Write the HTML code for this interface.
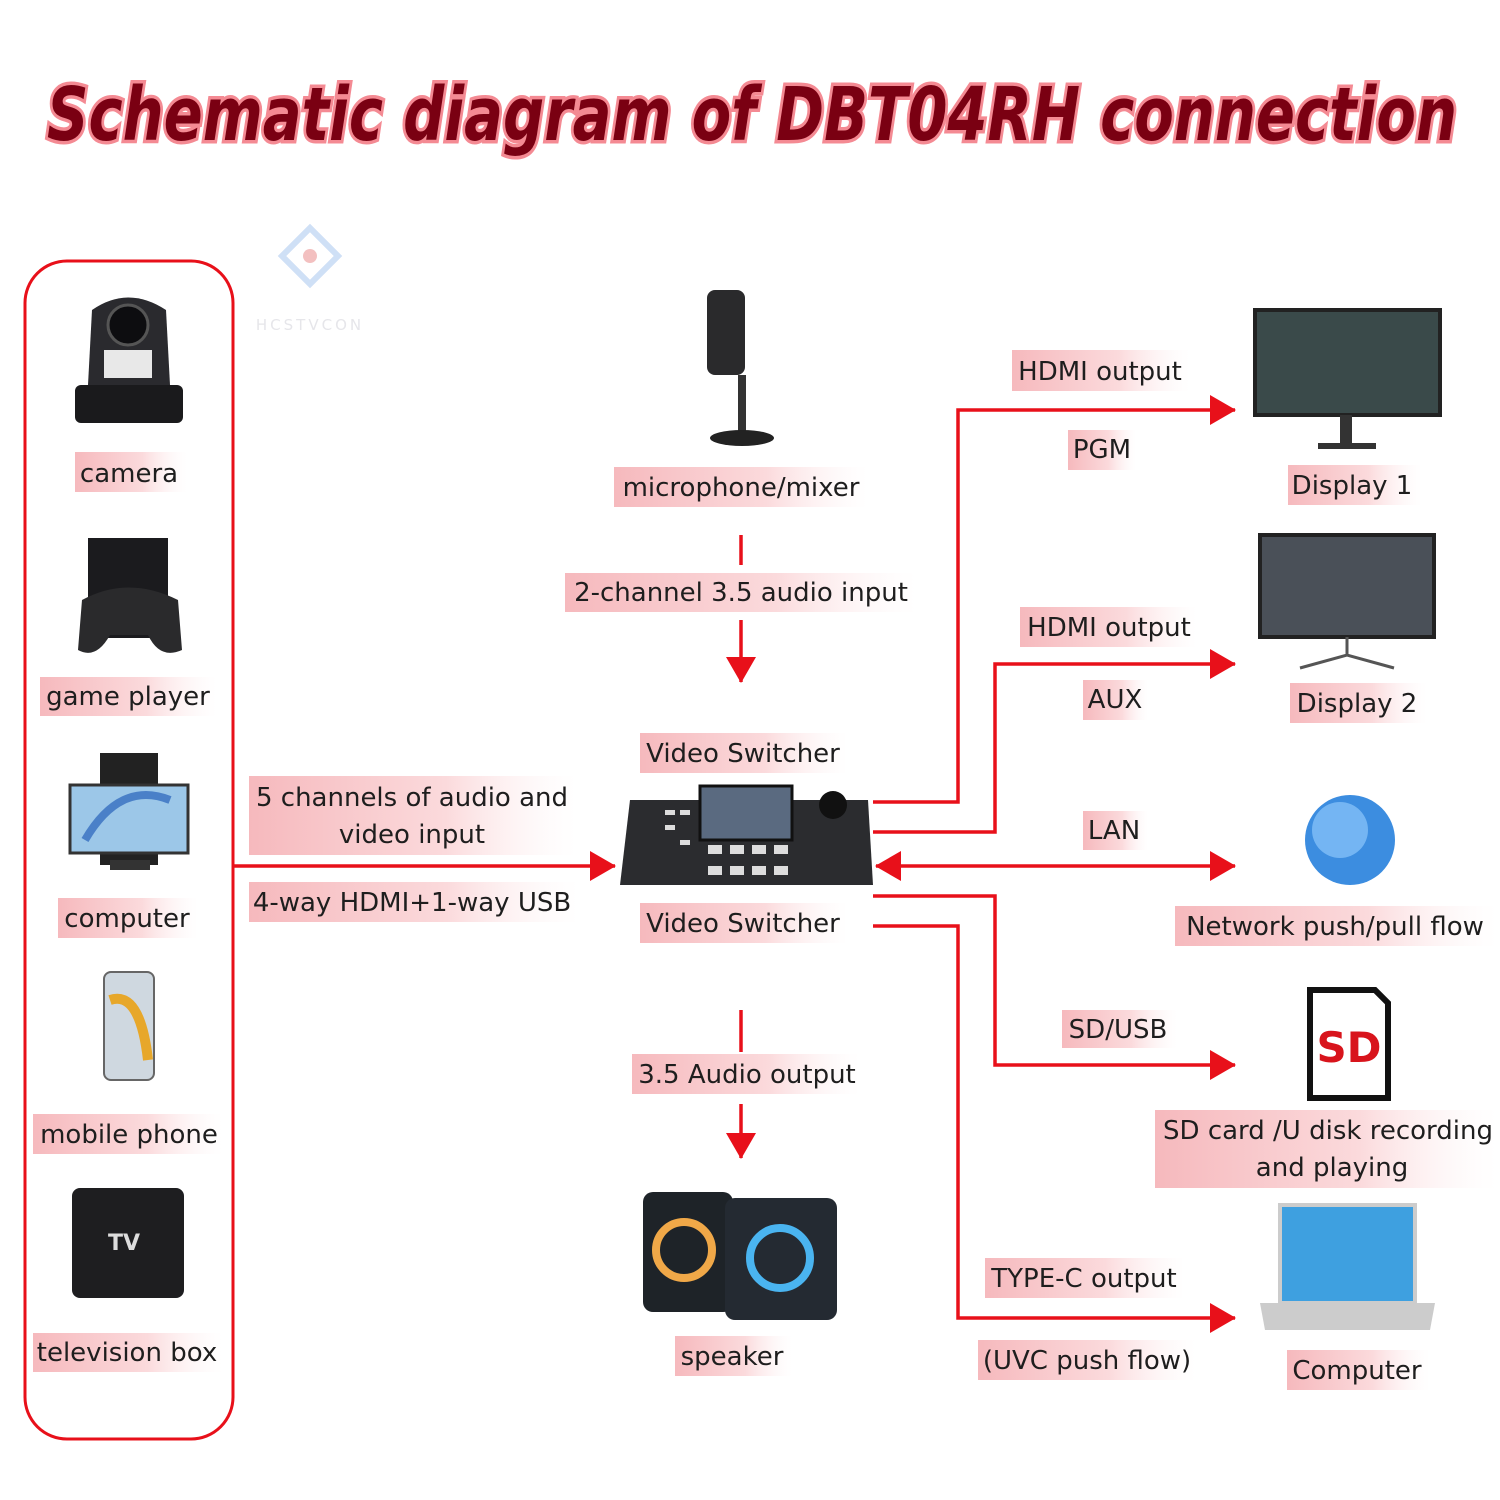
<!DOCTYPE html>
<html><head><meta charset="utf-8"><style>
html,body{margin:0;padding:0;background:#fff;}
svg{display:block;}
.l{font-family:"DejaVu Sans","Liberation Sans",sans-serif;font-size:26px;fill:#1e1e1e;text-anchor:middle;}
</style></head><body>
<svg width="1500" height="1500" viewBox="0 0 1500 1500" xmlns="http://www.w3.org/2000/svg">
<defs>
<linearGradient id="g" x1="0" x2="1" y1="0" y2="0"><stop offset="0" stop-color="#f6b9bd"/><stop offset="0.6" stop-color="#fbdadc"/><stop offset="1" stop-color="#fff" stop-opacity="0.3"/></linearGradient>
<marker id="ab" viewBox="0 0 26 30" markerWidth="26" markerHeight="30" refX="25" refY="15" orient="auto" markerUnits="userSpaceOnUse"><path d="M0,0 L26,15 L0,30z" fill="#e8101a"/></marker>
<marker id="as" viewBox="0 0 26 30" markerWidth="26" markerHeight="30" refX="1" refY="15" orient="auto" markerUnits="userSpaceOnUse"><path d="M26,0 L0,15 L26,30z" fill="#e8101a"/></marker>
</defs>
<text x="752" y="140" text-anchor="middle" textLength="1410" lengthAdjust="spacingAndGlyphs" font-family="DejaVu Sans,sans-serif" font-weight="bold" font-style="italic" font-size="74" fill="#7a0012" stroke="#f48a93" stroke-width="7" paint-order="stroke">Schematic diagram of DBT04RH connection</text>
<path d="M310 228 L338 256 L310 284 L282 256z" fill="none" stroke="#cfe0f6" stroke-width="6"/>
<circle cx="310" cy="256" r="7" fill="#f3c0c0"/>
<text x="310" y="330" text-anchor="middle" font-family="DejaVu Sans" font-size="15" fill="#e6e6ea" letter-spacing="3">HCSTVCON</text>
<rect x="25" y="261" width="208" height="1178" rx="42" fill="none" stroke="#e8101a" stroke-width="3"/>
<g stroke="#e8101a" stroke-width="3.5" fill="none">
<line x1="234" y1="866" x2="615" y2="866" marker-end="url(#ab)"/>
<line x1="741" y1="535" x2="741" y2="565"/>
<line x1="741" y1="620" x2="741" y2="682" marker-end="url(#ab)"/>
<line x1="741" y1="1010" x2="741" y2="1052"/>
<line x1="741" y1="1104" x2="741" y2="1158" marker-end="url(#ab)"/>
<polyline points="873,802 958,802 958,410 1235,410" marker-end="url(#ab)"/>
<polyline points="873,832 995,832 995,664 1235,664" marker-end="url(#ab)"/>
<line x1="876" y1="866" x2="1235" y2="866" marker-start="url(#as)" marker-end="url(#ab)"/>
<polyline points="873,896 995,896 995,1065 1235,1065" marker-end="url(#ab)"/>
<polyline points="873,926 958,926 958,1318 1235,1318" marker-end="url(#ab)"/>
</g>
<g fill="url(#g)">
<rect x="75" y="452" width="112" height="40"/>
<rect x="40" y="677" width="177" height="39"/>
<rect x="58" y="898" width="140" height="40"/>
<rect x="33" y="1114" width="190" height="40"/>
<rect x="33" y="1333" width="190" height="39"/>
<rect x="614" y="467" width="254" height="40"/>
<rect x="565" y="573" width="352" height="39"/>
<rect x="640" y="733" width="208" height="40"/>
<rect x="249" y="776" width="328" height="79"/>
<rect x="249" y="882" width="330" height="40"/>
<rect x="640" y="903" width="208" height="40"/>
<rect x="632" y="1054" width="228" height="40"/>
<rect x="675" y="1336" width="117" height="40"/>
<rect x="1012" y="350" width="178" height="41"/>
<rect x="1068" y="430" width="68" height="40"/>
<rect x="1288" y="465" width="134" height="40"/>
<rect x="1020" y="607" width="177" height="40"/>
<rect x="1083" y="680" width="65" height="40"/>
<rect x="1290" y="683" width="137" height="40"/>
<rect x="1083" y="811" width="65" height="39"/>
<rect x="1175" y="906" width="322" height="40"/>
<rect x="1062" y="1010" width="115" height="38"/>
<rect x="1155" y="1110" width="342" height="78"/>
<rect x="985" y="1258" width="200" height="40"/>
<rect x="978" y="1340" width="218" height="40"/>
<rect x="1287" y="1350" width="143" height="40"/>
</g>
<g class="l">
<text x="129" y="482">camera</text>
<text x="128" y="705">game player</text>
<text x="127" y="927">computer</text>
<text x="129" y="1143">mobile phone</text>
<text x="127" y="1361">television box</text>
<text x="741" y="496">microphone/mixer</text>
<text x="741" y="601">2-channel 3.5 audio input</text>
<text x="743" y="762">Video Switcher</text>
<text x="412" y="806">5 channels of audio and</text>
<text x="412" y="843">video input</text>
<text x="412" y="911">4-way HDMI+1-way USB</text>
<text x="743" y="932">Video Switcher</text>
<text x="747" y="1083">3.5 Audio output</text>
<text x="732" y="1365">speaker</text>
<text x="1100" y="380">HDMI output</text>
<text x="1102" y="458">PGM</text>
<text x="1352" y="494">Display 1</text>
<text x="1109" y="636">HDMI output</text>
<text x="1115" y="708">AUX</text>
<text x="1357" y="712">Display 2</text>
<text x="1114" y="839">LAN</text>
<text x="1335" y="935">Network push/pull flow</text>
<text x="1118" y="1038">SD/USB</text>
<text x="1328" y="1139">SD card /U disk recording</text>
<text x="1332" y="1176">and playing</text>
<text x="1084" y="1287">TYPE-C output</text>
<text x="1087" y="1369">(UVC push flow)</text>
<text x="1357" y="1379">Computer</text>
</g>
<rect x="75" y="385" width="108" height="38" rx="6" fill="#1a1a1c"/>
<path d="M88 385 L92 310 Q128 285 166 310 L170 385z" fill="#2a2a2e"/>
<circle cx="128" cy="325" r="20" fill="#0d0d10" stroke="#555" stroke-width="3"/>
<rect x="104" y="350" width="48" height="28" fill="#e8e8e8"/>
<rect x="88" y="538" width="80" height="100" fill="#1b1b1e"/>
<path d="M82 600 Q128 575 178 600 L182 650 Q160 660 148 635 L110 635 Q96 660 78 650z" fill="#2a2a2c"/>
<rect x="100" y="753" width="58" height="112" fill="#222"/>
<rect x="70" y="785" width="118" height="68" fill="#9cc7e8" stroke="#333" stroke-width="3"/>
<path d="M85 840 Q120 780 170 800" stroke="#4a80c8" stroke-width="8" fill="none"/>
<rect x="110" y="860" width="40" height="10" fill="#333"/>
<rect x="104" y="972" width="50" height="108" rx="7" fill="#cfd8e0" stroke="#666" stroke-width="2"/>
<path d="M110 1000 Q140 990 148 1060" stroke="#e7a72a" stroke-width="10" fill="none"/>
<rect x="72" y="1188" width="112" height="110" rx="8" fill="#1e1e20"/>
<text x="124" y="1250" text-anchor="middle" font-family="DejaVu Sans" font-weight="bold" font-size="22" fill="#ddd">TV</text>
<rect x="707" y="290" width="38" height="85" rx="8" fill="#2a2a2c"/>
<rect x="738" y="375" width="8" height="60" fill="#333"/>
<ellipse cx="742" cy="438" rx="32" ry="8" fill="#222"/>
<path d="M630 800 L868 800 L873 885 L620 885z" fill="#2b2c2f"/>
<rect x="700" y="786" width="92" height="54" fill="#5a6a80" stroke="#111" stroke-width="3"/>
<circle cx="833" cy="805" r="14" fill="#111"/>
<g fill="#ddd"><rect x="708" y="845" width="14" height="9"/><rect x="730" y="845" width="14" height="9"/><rect x="752" y="845" width="14" height="9"/><rect x="774" y="845" width="14" height="9"/><rect x="708" y="866" width="14" height="9"/><rect x="730" y="866" width="14" height="9"/><rect x="752" y="866" width="14" height="9"/><rect x="774" y="866" width="14" height="9"/><rect x="665" y="810" width="10" height="5"/><rect x="680" y="810" width="10" height="5"/><rect x="665" y="825" width="10" height="5"/><rect x="680" y="840" width="10" height="5"/></g>
<rect x="643" y="1192" width="90" height="120" rx="10" fill="#1e2328"/>
<circle cx="684" cy="1250" r="28" fill="none" stroke="#f0a848" stroke-width="8"/>
<rect x="725" y="1198" width="112" height="122" rx="10" fill="#242a32"/>
<circle cx="780" cy="1258" r="30" fill="none" stroke="#4ab4f0" stroke-width="8"/>
<rect x="1255" y="310" width="185" height="105" fill="#3a4a4a" stroke="#222" stroke-width="4"/>
<rect x="1340" y="415" width="12" height="30" fill="#333"/><rect x="1318" y="443" width="58" height="6" fill="#333"/>
<rect x="1260" y="535" width="174" height="102" fill="#4a5058" stroke="#222" stroke-width="4"/>
<path d="M1347 637 L1347 655 M1300 668 L1347 655 L1394 668" stroke="#555" stroke-width="3" fill="none"/>
<circle cx="1350" cy="840" r="45" fill="#3c8de0"/>
<circle cx="1340" cy="830" r="28" fill="#9ad0ff" opacity="0.6"/>
<path d="M1310 990 L1375 990 L1388 1003 L1388 1098 L1310 1098z" fill="#fff" stroke="#111" stroke-width="6"/>
<text x="1349" y="1062" text-anchor="middle" font-family="DejaVu Sans" font-weight="bold" font-size="42" fill="#d8141c">SD</text>
<rect x="1280" y="1205" width="135" height="98" fill="#3ea0e0" stroke="#ccc" stroke-width="4"/>
<path d="M1260 1303 L1435 1303 L1430 1330 L1265 1330z" fill="#ccc"/>
</svg>
</body></html>
